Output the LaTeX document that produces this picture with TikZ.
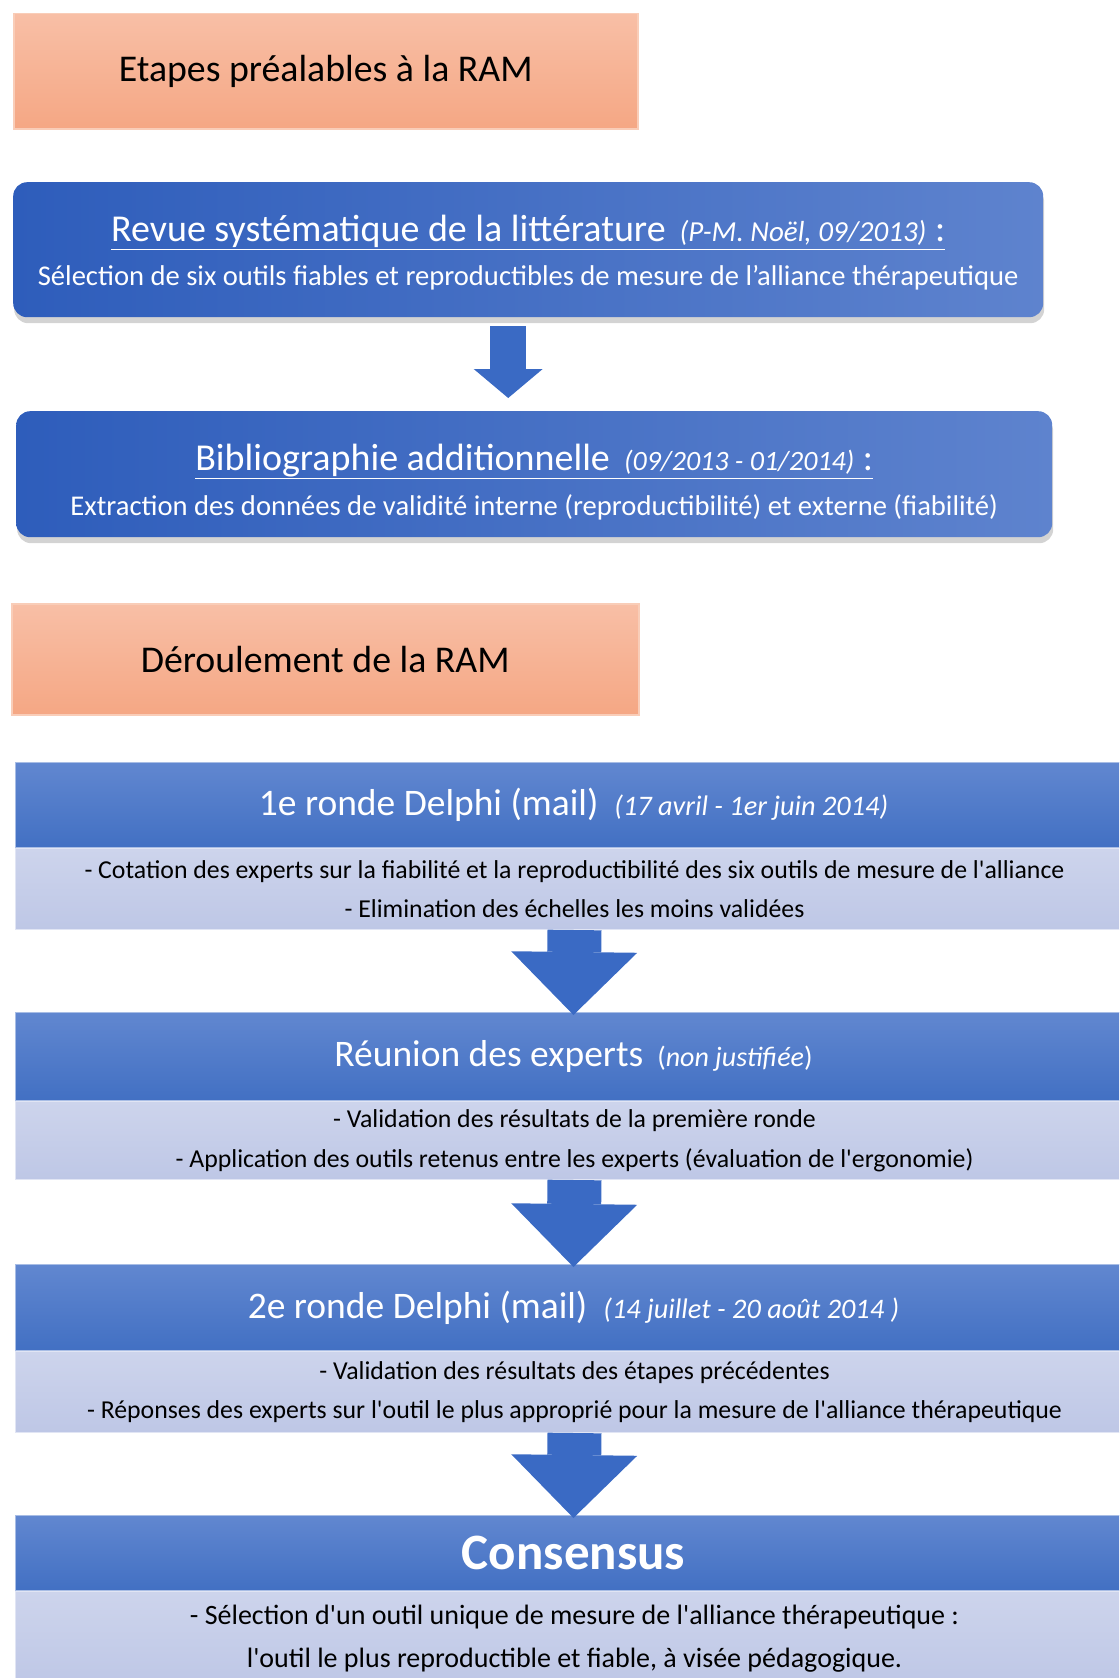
\documentclass[tikz,border=0pt]{standalone}
\usepackage{fontspec}
\setmainfont{Carlito}
\usetikzlibrary{positioning,shadows,arrows.meta}

\definecolor{peachtop}{HTML}{F8BFA6}
\definecolor{peachbot}{HTML}{F5A784}
\definecolor{peachline}{HTML}{F9CDB8}
\definecolor{litleft}{HTML}{2E5DBB}
\definecolor{litright}{HTML}{5E83CE}
\definecolor{headtop}{HTML}{6187D0}
\definecolor{headbot}{HTML}{4270C3}
\definecolor{bodytop}{HTML}{CDD4EC}
\definecolor{bodybot}{HTML}{BEC7E6}
\definecolor{arrowblue}{HTML}{3A6AC4}

\newcommand{\aposq}{\textquotesingle}

\tikzset{
  stage/.style={rectangle, draw=peachline, line width=1.5pt, top color=peachtop, bottom color=peachbot,
    minimum width=624pt, minimum height=115pt, anchor=north west, font=\fontsize{37.8}{44}\selectfont},
  lit/.style={rectangle, rounded corners=14pt, left color=litleft, right color=litright, text=white,
    align=center, anchor=north west, inner sep=0pt,
    drop shadow={shadow xshift=1pt, shadow yshift=-6pt, opacity=.35}},
  rondehead/.style={rectangle, draw=headtop!55!white, line width=1pt, top color=headtop, bottom color=headbot,
    text=white, minimum width=1116pt, anchor=north west, font=\fontsize{37.5}{44}\selectfont},
  rondebody/.style={rectangle, draw=bodytop!60!white, line width=1pt, top color=bodytop, bottom color=bodybot,
    minimum width=1118pt, align=center, anchor=north west, font=\fontsize{25.8}{39.5}\selectfont},
  litarrow/.style={draw=arrowblue, line width=36pt, -{Triangle[width=69pt, length=29pt, line width=0pt]}},
  bigarrow/.style={draw=arrowblue, line width=54pt, -{Triangle[width=126pt, length=63pt, line width=0pt]}}
}

\begin{document}
\begin{tikzpicture}[x=1pt, y=-1pt]
\useasboundingbox (0,0) rectangle (1119,1678);
\clip (0,0) rectangle (1119,1678);

% etapes prealables
\node [stage] (prep) at (13,13) {Etapes préalables à la RAM};

\node [lit, minimum width=1030pt, minimum height=135pt] (revue) at (13,182)
  {{\fontsize{38}{44}\selectfont\rule{0pt}{32pt}\underline{Revue systématique de la littérature\hspace{14pt}{\fontsize{29}{34}\selectfont\itshape(P-M. Noël, 09/2013)} :}}\\[14pt]
   {\fontsize{28.6}{34}\selectfont Sélection de six outils fiables et reproductibles de mesure de l’alliance thérapeutique}};

\node [lit, minimum width=1036pt, minimum height=126pt] (biblio) at (16,411)
  {{\fontsize{38}{44}\selectfont\rule{0pt}{42pt}\underline{Bibliographie additionnelle\hspace{14pt}{\fontsize{28}{34}\selectfont\itshape(09/2013 - 01/2014)} :}}\\[14pt]
   {\fontsize{28.6}{34}\selectfont Extraction des données de validité interne (reproductibilité) et externe (fiabilité)}};

% deroulement
\node [stage, minimum width=627pt, minimum height=111pt] (deroul) at (11,603) {Déroulement de la RAM};

\node [rondehead, minimum height=85pt] (d1head) at (15,762)
  {1e ronde Delphi (mail)\hspace{16pt}{\fontsize{28.3}{32}\selectfont\itshape(17 avril - 1er juin 2014)}};
\node [rondebody, minimum height=81pt] (d1body) at (d1head.south west)
  {- Cotation des experts sur la fiabilité et la reproductibilité des six outils de mesure de l\aposq alliance\\
   - Elimination des échelles les moins validées};

\node [rondehead, minimum height=88pt] (reuhead) at (15,1012)
  {Réunion des experts\hspace{14pt}{\fontsize{28}{32}\selectfont(\textit{non justifiée})}};
\node [rondebody, minimum height=78pt] (reubody) at (reuhead.south west)
  {- Validation des résultats de la première ronde\\
   - Application des outils retenus entre les experts (évaluation de l\aposq ergonomie)};

\node [rondehead, minimum height=86pt] (d2head) at (15,1264)
  {2e ronde Delphi (mail)\hspace{16pt}{\fontsize{28.3}{32}\selectfont\itshape(14 juillet - 20 août 2014 )}};
\node [rondebody, minimum height=81pt] (d2body) at (d2head.south west)
  {- Validation des résultats des étapes précédentes\\
   - Réponses des experts sur l\aposq outil le plus approprié pour la mesure de l\aposq alliance thérapeutique};

\node [rondehead, minimum height=75pt, font=\fontsize{51}{56}\selectfont\bfseries] (conshead) at (15,1515) {Consensus};
\node [rondebody, minimum height=95pt, font=\fontsize{28}{43}\selectfont] (consbody) at (conshead.south west)
  {- Sélection d\aposq un outil unique de mesure de l\aposq alliance thérapeutique :\\
   l\aposq outil le plus reproductible et fiable, à visée pédagogique.};

% fleches
\draw [litarrow, shorten <=9pt, shorten >=13pt] ([xshift=-20pt]revue.south) -- ([xshift=-20pt]revue.south |- biblio.north);
\draw [bigarrow, shorten >=-3pt] (d1body.south) -- (reuhead.north);
\draw [bigarrow, shorten >=-3pt] (reubody.south) -- (d2head.north);
\draw [bigarrow, shorten >=-3pt] (d2body.south) -- (conshead.north);
\end{tikzpicture}
\end{document}
